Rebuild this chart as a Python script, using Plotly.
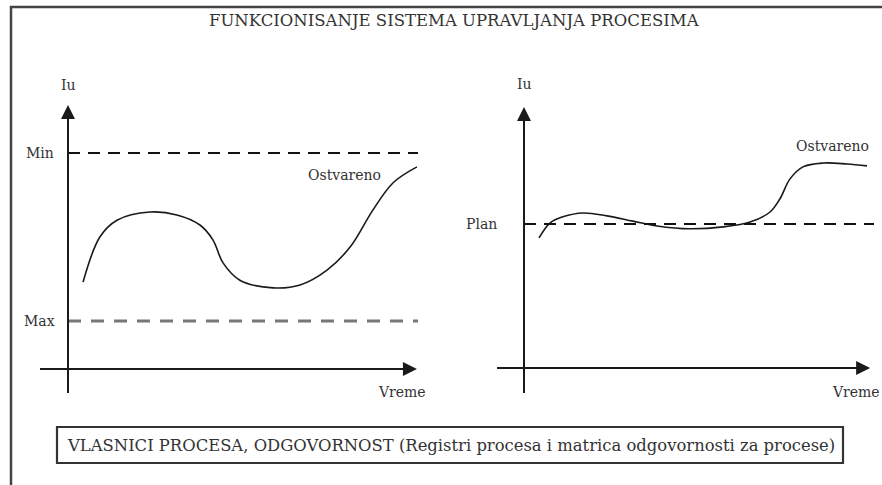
import plotly.graph_objects as go

W, H = 882, 485

# ---------------- data ----------------
# Left panel: Iu over time (Vreme), limits Min / Max
left_time = [0.43, 0.91, 1.40, 2.34, 3.11, 3.77, 4.14, 4.43, 4.91, 5.86, 6.63, 7.40, 8.06, 8.71, 9.29, 9.97]
left_iu   = [1.81, 2.75, 3.10, 3.27, 3.21, 3.00, 2.69, 2.21, 1.85, 1.69, 1.75, 2.06, 2.54, 3.31, 3.88, 4.21]
min_level = 4.5
max_level = 1.0

# Right panel: Iu over time, plan level
right_time = [0.43, 0.74, 1.11, 1.69, 2.37, 3.11, 3.80, 4.74, 5.69, 6.46, 7.03, 7.31, 7.60, 7.97, 8.54, 9.23, 9.80]
right_iu   = [2.71, 3.02, 3.15, 3.23, 3.17, 3.06, 2.96, 2.90, 2.94, 3.04, 3.25, 3.52, 3.94, 4.19, 4.27, 4.25, 4.21]
plan_level = 3.0

time_end = 10.0
title_text = "FUNKCIONISANJE SISTEMA UPRAVLJANJA PROCESIMA"
box_text = "VLASNICI PROCESA, ODGOVORNOST (Registri procesa i matrica odgovornosti za procese)"
y_label = "Iu"
x_label = "Vreme"
series_label = "Ostvareno"

FONT = "DejaVu Serif"
TXT = "#333333"
INK = "#1a1a1a"

fig = go.Figure()

# curves
fig.add_trace(go.Scatter(x=left_time, y=left_iu, mode="lines", line=dict(color=INK, width=1.6, shape="spline", smoothing=1.0),
                         xaxis="x", yaxis="y", hoverinfo="skip"))
fig.add_trace(go.Scatter(x=right_time, y=right_iu, mode="lines", line=dict(color=INK, width=1.6, shape="spline", smoothing=1.0),
                         xaxis="x2", yaxis="y2", hoverinfo="skip"))

# reference levels
fig.add_trace(go.Scatter(x=[0, time_end], y=[min_level, min_level], mode="lines",
                         line=dict(color="#111111", width=1.8, dash="12px,8px"), xaxis="x", yaxis="y", hoverinfo="skip"))
fig.add_trace(go.Scatter(x=[0, time_end], y=[max_level, max_level], mode="lines",
                         line=dict(color="#777777", width=3, dash="13px,10px"), xaxis="x", yaxis="y", hoverinfo="skip"))
fig.add_trace(go.Scatter(x=[0, time_end], y=[plan_level, plan_level], mode="lines",
                         line=dict(color="#111111", width=1.8, dash="12px,8px"), xaxis="x2", yaxis="y2", hoverinfo="skip"))

# axes geometry (pixel placement)
def px_x(p):
    return p / W

def px_y(p):
    return 1 - p / H

ax_common = dict(visible=False, fixedrange=True)
fig.update_layout(
    width=W, height=H, autosize=False,
    margin=dict(l=0, r=0, t=0, b=0),
    paper_bgcolor="white", plot_bgcolor="rgba(0,0,0,0)",
    showlegend=False,
    xaxis=dict(domain=[px_x(20), px_x(440)], range=[(20 - 68) / 35, (440 - 68) / 35], **ax_common),
    yaxis=dict(domain=[px_y(410), px_y(60)], range=[(369 - 410) / 48, (369 - 60) / 48], **ax_common),
    xaxis2=dict(domain=[px_x(460), 1.0], range=[(460 - 524) / 35, (882 - 524) / 35], anchor="y2", **ax_common),
    yaxis2=dict(domain=[px_y(410), px_y(60)], range=[(368 - 410) / 48, (368 - 60) / 48], anchor="x2", **ax_common),
)

shapes = []
# outer frame (left and top edge)
shapes.append(dict(type="path", xref="paper", yref="paper",
                   path=f"M {px_x(11)},{px_y(H)} L {px_x(11)},{px_y(7)} L 1,{px_y(7)}",
                   line=dict(color="#444444", width=2.5)))
# axes lines
shapes.append(dict(type="line", xref="x", yref="y", x0=0, x1=0, y0=-0.5, y1=5.3, line=dict(color=INK, width=2)))
shapes.append(dict(type="line", xref="x", yref="y", x0=-0.8, x1=9.7, y0=0, y1=0, line=dict(color=INK, width=2)))
shapes.append(dict(type="line", xref="x2", yref="y2", x0=0, x1=0, y0=-0.52, y1=5.25, line=dict(color=INK, width=2)))
shapes.append(dict(type="line", xref="x2", yref="y2", x0=-0.77, x1=9.6, y0=0, y1=0, line=dict(color=INK, width=2)))
# bottom box
shapes.append(dict(type="rect", xref="paper", yref="paper", x0=px_x(57), x1=px_x(843), y0=px_y(463), y1=px_y(427),
                   line=dict(color="#333333", width=2.2), fillcolor="white", layer="below"))
fig.update_layout(shapes=shapes)

ann = []
# arrowheads
for xr, yr, tipx, tipy, tx, ty in [
    ("x", "y", 0, 5.5, 0, 5.0),
    ("x", "y", 9.97, 0, 9.3, 0),
    ("x2", "y2", 0, 5.44, 0, 4.9),
    ("x2", "y2", 9.89, 0, 9.2, 0),
]:
    ann.append(dict(xref=xr, yref=yr, axref=xr, ayref=yr, x=tipx, y=tipy, ax=tx, ay=ty, text="",
                    showarrow=True, arrowhead=2, arrowsize=1.4, arrowwidth=2, arrowcolor=INK, standoff=0))

def label(text, xr, yr, x, y, xanchor="center", size=14):
    return dict(xref=xr, yref=yr, x=x, y=y, text=text, showarrow=False, xanchor=xanchor, yanchor="middle",
                font=dict(family=FONT, size=size, color=TXT))

ann += [
    label(y_label, "x", "y", 0, 5.92),
    label("Min", "x", "y", -0.33, min_level, xanchor="right"),
    label("Max", "x", "y", -0.31, max_level, xanchor="right"),
    label(series_label, "x", "y", 7.91, 4.04),
    label(x_label, "x", "y", 9.54, -0.48),
    label(y_label, "x2", "y2", 0, 5.92),
    label("Plan", "x2", "y2", -0.72, plan_level, xanchor="right"),
    label(series_label, "x2", "y2", 8.8, 4.63),
    label(x_label, "x2", "y2", 9.49, -0.5),
    dict(xref="paper", yref="paper", x=px_x(454), y=px_y(21), text=title_text, showarrow=False,
         xanchor="center", yanchor="middle", font=dict(family=FONT, size=16.5, color=TXT)),
    dict(xref="paper", yref="paper", x=px_x(451), y=px_y(445), text=box_text, showarrow=False,
         xanchor="center", yanchor="middle", font=dict(family=FONT, size=16.4, color=TXT)),
]
fig.update_layout(annotations=ann)

fig.write_html("out.html", config={"displayModeBar": False},
               post_script="document.body.style.margin='0px';document.body.style.overflow='hidden';")
